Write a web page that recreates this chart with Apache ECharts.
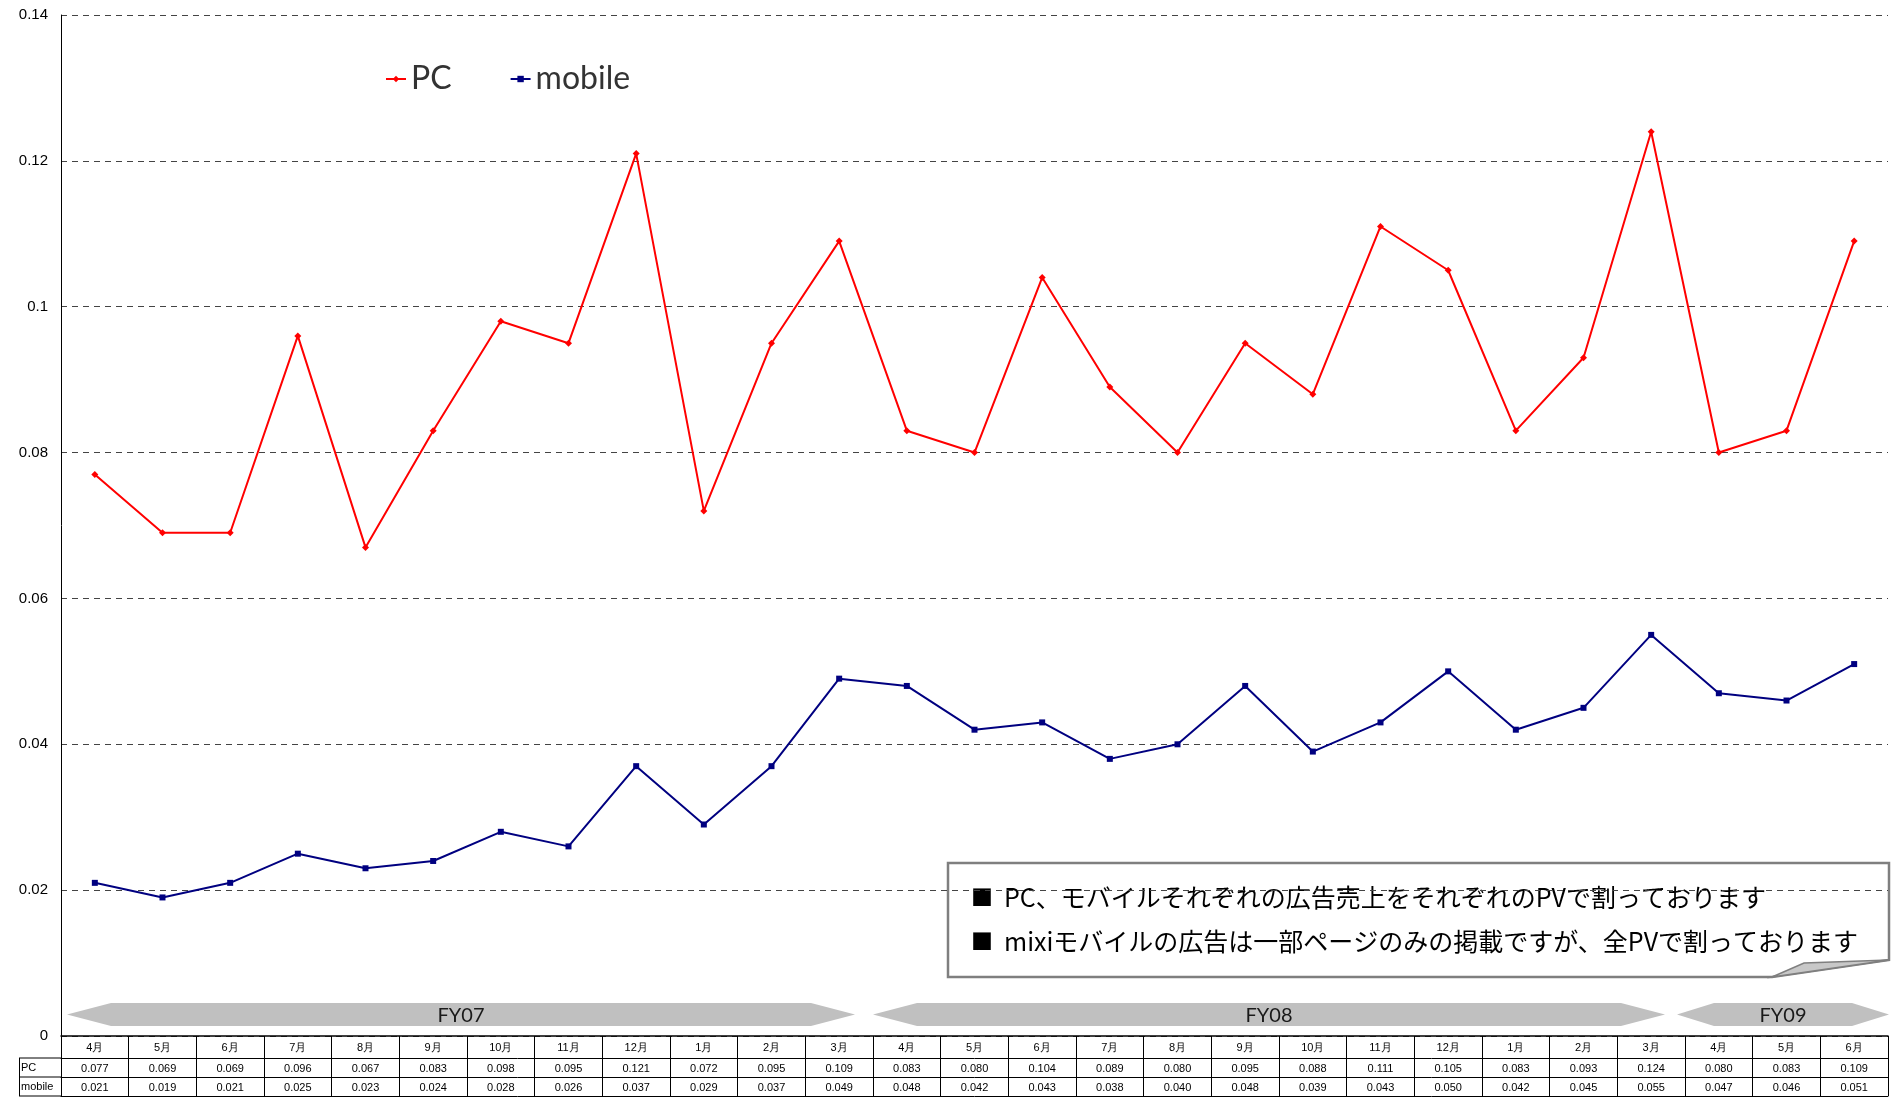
<!DOCTYPE html>
<html>
<head>
<meta charset="utf-8">
<style>
  html, body { margin: 0; padding: 0; background: #fff; }
  #main { width: 1891px; height: 1097px; }
</style>
<script src="https://cdn.jsdelivr.net/npm/echarts@6/dist/echarts.min.js"></script>
</head>
<body>
<div id="main"></div>
<script>
// 月（FY07 4月 ～ FY09 6月）
var months = ['4月','5月','6月','7月','8月','9月','10月','11月','12月','1月','2月','3月',
              '4月','5月','6月','7月','8月','9月','10月','11月','12月','1月','2月','3月',
              '4月','5月','6月'];
// PC
var pcData = [0.077,0.069,0.069,0.096,0.067,0.083,0.098,0.095,0.121,0.072,0.095,0.109,
              0.083,0.080,0.104,0.089,0.080,0.095,0.088,0.111,0.105,0.083,0.093,0.124,
              0.080,0.083,0.109];
// mobile
var mobileData = [0.021,0.019,0.021,0.025,0.023,0.024,0.028,0.026,0.037,0.029,0.037,0.049,
                  0.048,0.042,0.043,0.038,0.040,0.048,0.039,0.043,0.050,0.042,0.045,0.055,
                  0.047,0.046,0.051];
// 年度の矢印（開始・終了の月インデックス）
var fyStart = [0, 12, 24];
var fyEnd = [11, 23, 26];
var fyLabels = ['FY07', 'FY08', 'FY09'];
// 注記
var notes = ['PC、モバイルそれぞれの広告売上をそれぞれのPVで割っております',
             'mixiモバイルの広告は一部ページのみの掲載ですが、全PVで割っております'];

var fyInsets = [[6, 18], [0, 20], [-8, -1]];

var pcLabels = pcData.map(function (v) { return v.toFixed(3); });
var mobileLabels = mobileData.map(function (v) { return v.toFixed(3); });

var chart = echarts.init(document.getElementById('main'));

//年度矢印の描画
function renderFy(params, api) {
    var s = api.coord([api.value(0), 0]);
    var e = api.coord([api.value(1), 0]);
    var bw = api.size([1, 0])[0];
    var ins = fyInsets[params.dataIndex];
    var x1 = s[0] - bw / 2 + ins[0];
    var x2 = e[0] + bw / 2 - ins[1];
    var yT = s[1] - 33, yB = s[1] - 10, yM = (yT + yB) / 2;
    var tip = params.dataIndex == 2 ? 37 : 44;
    return {
        type: 'group',
        children: [{
            type: 'polygon',
            shape: { points: [[x1, yM], [x1 + tip, yT], [x2 - tip, yT], [x2, yM], [x2 - tip, yB], [x1 + tip, yB]] },
            style: { fill: '#c0c0c0' }
        }, {
            type: 'text',
            x: (x1 + x2) / 2,
            y: yM + 1,
            style: {
                text: fyLabels[params.dataIndex],
                align: 'center', verticalAlign: 'middle',
                fontSize: 20, fontFamily: 'Lato', fill: '#1a1a1a'
            }
        }]
    };
}

var tableFont = { fontSize: 11, fontFamily: 'Liberation Sans', color: '#000' };

option = {
    animation: false,
    grid: { left: 61, right: 3, top: 15, bottom: 61 },
    legend: {
        data: ['PC', 'mobile'],
        left: 380,
        top: 58,
        itemWidth: 20,
        itemHeight: 8,
        itemGap: 58,
        textStyle: { fontSize: 32, fontFamily: 'Lato', color: '#333' }
    },
    xAxis: [{
        type: 'category',
        data: months,
        boundaryGap: true,
        axisLine: { lineStyle: { color: '#000', width: 1.5 } },
        axisTick: { show: true, length: 60, lineStyle: { color: '#000', width: 1 } },
        axisLabel: { margin: 6, fontSize: 11, fontFamily: 'Liberation Sans', color: '#000' }
    }, {
        type: 'category',
        data: pcLabels,
        position: 'bottom',
        offset: 22,
        axisLine: { lineStyle: { color: '#000', width: 1 } },
        axisTick: { show: false },
        axisLabel: Object.assign({ margin: 5, interval: 0 }, tableFont)
    }, {
        type: 'category',
        data: mobileLabels,
        position: 'bottom',
        offset: 41,
        axisLine: { lineStyle: { color: '#000', width: 1 } },
        axisTick: { show: false },
        axisLabel: Object.assign({ margin: 5, interval: 0 }, tableFont)
    }, {
        type: 'category',
        data: months,
        position: 'bottom',
        offset: 60,
        axisLine: { lineStyle: { color: '#000', width: 1 } },
        axisTick: { show: false },
        axisLabel: { show: false }
    }],
    yAxis: {
        type: 'value',
        min: 0,
        max: 0.14,
        interval: 0.02,
        axisLine: { show: true, lineStyle: { color: '#000', width: 1 } },
        axisTick: { show: false },
        axisLabel: { margin: 13, fontSize: 15, fontFamily: 'Liberation Sans', color: '#000' },
        splitLine: { lineStyle: { color: '#444', type: [6, 5], width: 1 } }
    },
    series: [{
        name: 'PC',
        type: 'line',
        data: pcData,
        symbol: 'diamond',
        symbolSize: 7,
        itemStyle: { color: '#ff0000' },
        lineStyle: { color: '#ff0000', width: 2 }
    }, {
        name: 'mobile',
        type: 'line',
        data: mobileData,
        symbol: 'rect',
        symbolSize: 6,
        itemStyle: { color: '#000080' },
        lineStyle: { color: '#000080', width: 2 }
    }, {
        name: 'FY',
        type: 'custom',
        renderItem: renderFy,
        data: fyStart.map(function (s, i) { return [s, fyEnd[i]]; }),
        encode: { x: [0, 1] },
        clip: false,
        silent: true,
        z: 1
    }],
    graphic: [
        // 表の左側（行ラベル）
        { type: 'line', shape: { x1: 19, y1: 1058, x2: 61, y2: 1058 }, style: { stroke: '#000', lineWidth: 1 } },
        { type: 'line', shape: { x1: 19, y1: 1077, x2: 61, y2: 1077 }, style: { stroke: '#000', lineWidth: 1 } },
        { type: 'line', shape: { x1: 19, y1: 1096, x2: 61, y2: 1096 }, style: { stroke: '#000', lineWidth: 1 } },
        { type: 'line', shape: { x1: 19.5, y1: 1058, x2: 19.5, y2: 1096 }, style: { stroke: '#000', lineWidth: 1 } },
        { type: 'text', x: 21, y: 1068, style: { text: 'PC', fontSize: 11, fontFamily: 'Liberation Sans', fill: '#000', verticalAlign: 'middle' } },
        { type: 'text', x: 21, y: 1087, style: { text: 'mobile', fontSize: 11, fontFamily: 'Liberation Sans', fill: '#000', verticalAlign: 'middle' } },
        // 注記ボックス
        {
            type: 'group',
            z: 100,
            children: [{
                type: 'polygon',
                shape: { points: [[948, 863], [1889, 863], [1889, 960], [1772, 977], [948, 977]] },
                style: { fill: '#fff', stroke: '#7f7f7f', lineWidth: 2.5 }
            }, {
                type: 'polygon',
                shape: { points: [[1772, 977], [1804, 963], [1889, 960]] },
                style: { fill: '#c8c8c8', stroke: '#7f7f7f', lineWidth: 1.5 }
            }, {
                type: 'text', x: 971, y: 897,
                style: { text: '■', fontSize: 22, fontFamily: 'Noto Sans CJK JP', fill: '#000', verticalAlign: 'middle' }
            }, {
                type: 'text', x: 1004, y: 897,
                style: { text: notes[0], fontSize: 25, fontFamily: 'Noto Sans CJK JP', fill: '#000', verticalAlign: 'middle' }
            }, {
                type: 'text', x: 971, y: 941,
                style: { text: '■', fontSize: 22, fontFamily: 'Noto Sans CJK JP', fill: '#000', verticalAlign: 'middle' }
            }, {
                type: 'text', x: 1004, y: 941,
                style: { text: notes[1], fontSize: 25, fontFamily: 'Noto Sans CJK JP', fill: '#000', verticalAlign: 'middle' }
            }]
        }
    ]
};
chart.setOption(option);
</script>
</body>
</html>
